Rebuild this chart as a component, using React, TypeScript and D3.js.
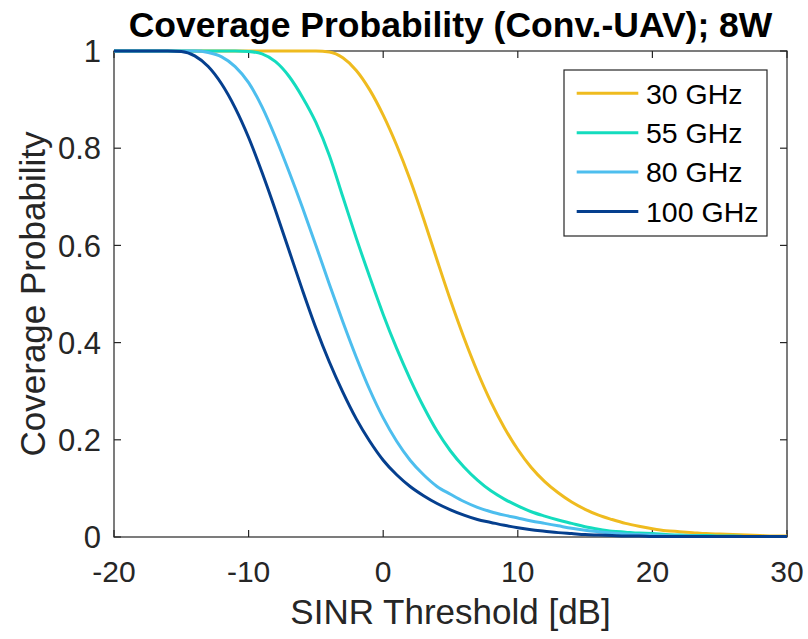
import React from "react";
import * as d3 from "d3";

const thresholds = [
  -20, -19, -18, -17, -16, -15, -14, -13, -12, -11, -10, -9, -8, -7, -6, -5, -4, -3, -2, -1,
  0, 1, 2, 3, 4, 5, 6, 7, 8, 9, 10, 11, 12, 13, 14, 15, 16, 17, 18, 19, 20,
  21, 22, 23, 24, 25, 26, 27, 28, 29, 30,
];

const p30 = [
  1, 1, 1, 1, 1, 1, 1, 1, 1, 1, 1, 1, 1, 1, 1, 1,
  0.998, 0.986, 0.96, 0.92, 0.868, 0.806, 0.735, 0.655, 0.57, 0.487, 0.41, 0.34, 0.278, 0.225,
  0.18, 0.143, 0.114, 0.091, 0.072, 0.057, 0.045, 0.036, 0.028, 0.022, 0.017, 0.013, 0.011,
  0.009, 0.007, 0.006, 0.005, 0.004, 0.003, 0.002, 0.002,
];

const p55 = [
  1, 1, 1, 1, 1, 1, 1, 1, 1, 1,
  0.999, 0.994, 0.978, 0.948, 0.905, 0.853, 0.785, 0.7, 0.615, 0.535, 0.458, 0.388, 0.325, 0.268,
  0.218, 0.177, 0.144, 0.117, 0.095, 0.078, 0.064, 0.052, 0.043, 0.035, 0.028, 0.021, 0.016,
  0.012, 0.01, 0.008, 0.007, 0.005, 0.004, 0.003, 0.003, 0.002, 0.002, 0.001, 0.001, 0.001, 0.001,
];

const p80 = [
  1, 1, 1, 1, 1, 1, 1,
  0.997, 0.988, 0.968, 0.935, 0.885, 0.822, 0.752, 0.678, 0.6, 0.52, 0.443, 0.37, 0.303, 0.245,
  0.197, 0.158, 0.128, 0.104, 0.088, 0.073, 0.061, 0.052, 0.045, 0.039, 0.033, 0.028, 0.023,
  0.018, 0.014, 0.011, 0.008, 0.006, 0.005, 0.004, 0.003, 0.002, 0.002, 0.001, 0.001, 0.001,
  0.001, 0.001, 0.001, 0.001,
];

const p100 = [
  1, 1, 1, 1, 1,
  0.999, 0.99, 0.968, 0.932, 0.883, 0.822, 0.75, 0.672, 0.59, 0.508, 0.43, 0.36, 0.298, 0.243,
  0.197, 0.158, 0.128, 0.104, 0.085, 0.069, 0.056, 0.045, 0.036, 0.03, 0.024, 0.019, 0.015,
  0.012, 0.009, 0.007, 0.005, 0.004, 0.003, 0.002, 0.002, 0.001, 0.001, 0.001, 0.001, 0.001,
  0.001, 0.001, 0.001, 0.001, 0.001, 0.001,
];

const seriesNames = ["30 GHz", "55 GHz", "80 GHz", "100 GHz"];
const seriesValues = [p30, p55, p80, p100];
const seriesColors = ["#EFBB1F", "#14DCBE", "#4DBEEE", "#053F8E"];

const xTicks = [-20, -10, 0, 10, 20, 30];
const yTicks = [0, 0.2, 0.4, 0.6, 0.8, 1];

const W = 808;
const H = 639;
const M = { left: 114, right: 787, top: 51, bottom: 537 };
const FONT = "'Liberation Sans', Arial, Helvetica, sans-serif";
const AX = "#262626";

export default function App() {
  const x = d3.scaleLinear().domain([-20, 30]).range([M.left, M.right]);
  const y = d3.scaleLinear().domain([0, 1]).range([M.bottom, M.top]);
  const line = d3
    .line<number>()
    .x((_, i) => x(thresholds[i]))
    .y((d) => y(d))
    .curve(d3.curveMonotoneX);

  const tickLen = 7;
  const legX = 564;
  const legY = 70;
  const legW = 203;
  const legH = 166;
  const rowGap = 39.4;

  return (
    <svg
      width={W}
      height={H}
      style={{ position: "absolute", left: 0, top: 0, background: "#fff" }}
      fontFamily={FONT}
    >
      <rect x={0} y={0} width={W} height={H} fill="#fff" />
      <defs>
        <clipPath id="plotclip">
          <rect x={M.left} y={M.top - 3} width={M.right - M.left} height={M.bottom - M.top + 6} />
        </clipPath>
      </defs>

      {/* axes box */}
      <rect
        x={M.left}
        y={M.top}
        width={M.right - M.left}
        height={M.bottom - M.top}
        fill="none"
        stroke={AX}
        strokeWidth={1.2}
      />

      {/* x ticks */}
      {xTicks.map((t) => (
        <g key={"x" + t}>
          <line x1={x(t)} x2={x(t)} y1={M.bottom} y2={M.bottom - tickLen} stroke={AX} strokeWidth={1.2} />
          <line x1={x(t)} x2={x(t)} y1={M.top} y2={M.top + tickLen} stroke={AX} strokeWidth={1.2} />
          <text x={x(t)} y={582} textAnchor="middle" fontSize={30} fill={AX}>
            {t < 0 ? "-" + Math.abs(t) : String(t)}
          </text>
        </g>
      ))}

      {/* y ticks */}
      {yTicks.map((t) => (
        <g key={"y" + t}>
          <line x1={M.left} x2={M.left + tickLen} y1={y(t)} y2={y(t)} stroke={AX} strokeWidth={1.2} />
          <line x1={M.right} x2={M.right - tickLen} y1={y(t)} y2={y(t)} stroke={AX} strokeWidth={1.2} />
          <text x={101} y={y(t)} dy="0.36em" textAnchor="end" fontSize={31} fill={AX}>
            {String(t)}
          </text>
        </g>
      ))}

      {/* curves (drawn over the axes, as in the reference) */}
      <g clipPath="url(#plotclip)">
        {seriesValues.map((vals, k) => (
          <path
            key={k}
            d={line(vals) || ""}
            fill="none"
            stroke={seriesColors[k]}
            strokeWidth={3}
            strokeLinejoin="round"
          />
        ))}
      </g>

      {/* legend */}
      <rect x={legX} y={legY} width={legW} height={legH} fill="#fff" stroke={AX} strokeWidth={1.2} />
      {seriesNames.map((name, k) => {
        const ry = legY + 23.3 + k * rowGap;
        return (
          <g key={name}>
            <line x1={legX + 12.7} x2={legX + 74.3} y1={ry} y2={ry} stroke={seriesColors[k]} strokeWidth={3} />
            <text x={legX + 82} y={ry} dy="0.36em" fontSize={28.5} fill="#000">
              {name}
            </text>
          </g>
        );
      })}

      {/* labels */}
      <text x={(M.left + M.right) / 2} y={624} textAnchor="middle" fontSize={35} fill={AX}>
        SINR Threshold [dB]
      </text>
      <text
        transform={`translate(45, ${(M.top + M.bottom) / 2}) rotate(-90)`}
        textAnchor="middle"
        fontSize={35}
        fill={AX}
      >
        Coverage Probability
      </text>
      <text x={(M.left + M.right) / 2} y={37} textAnchor="middle" fontSize={35.5} fontWeight="bold" fill="#000">
        Coverage Probability (Conv.-UAV); 8W
      </text>
    </svg>
  );
}
